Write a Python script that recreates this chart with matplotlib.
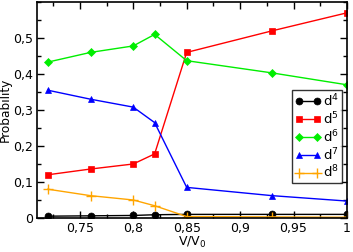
import matplotlib
matplotlib.use("Agg")
import matplotlib.pyplot as plt
from matplotlib.ticker import MultipleLocator, FuncFormatter

plt.rcParams['font.family'] = ['DejaVu Sans']
plt.rcParams['mathtext.default'] = 'regular'

x = [0.72, 0.76, 0.80, 0.82, 0.85, 0.93, 1.0]
d4 = [0.005, 0.006, 0.007, 0.009, 0.010, 0.010, 0.010]
d5 = [0.120, 0.136, 0.150, 0.178, 0.460, 0.520, 0.570]
d6 = [0.433, 0.460, 0.478, 0.510, 0.437, 0.403, 0.370]
d7 = [0.355, 0.330, 0.308, 0.265, 0.085, 0.062, 0.047]
d8 = [0.080, 0.062, 0.050, 0.034, 0.004, 0.003, 0.002]

series = [
    (d4, r'd$^{4}$', 'black', 'o'),
    (d5, r'd$^{5}$', 'red', 's'),
    (d6, r'd$^{6}$', '#00ee00', 'D'),
    (d7, r'd$^{7}$', 'blue', '^'),
    (d8, r'd$^{8}$', 'orange', '+'),
]

fig = plt.figure(figsize=(3.53, 2.52), dpi=100)
ax = fig.add_axes([0.105, 0.135, 0.878, 0.857])

for vals, lab, col, mk in series:
    ms = 5
    if mk == 'D':
        ms = 4
    if mk == '+':
        ms = 7
    ax.plot(x, vals, color=col, marker=mk, ms=ms, lw=1.0, label=lab,
            markeredgewidth=1.0 if mk == '+' else 0.5, markeredgecolor=col)

ax.set_xlim(0.71, 1.0)
ax.set_ylim(0, 0.6)
ax.xaxis.set_major_locator(MultipleLocator(0.05))
ax.xaxis.set_minor_locator(MultipleLocator(0.025))
ax.set_yticks([0, 0.1, 0.2, 0.3, 0.4, 0.5])
ax.yaxis.set_minor_locator(MultipleLocator(0.05))

def fmt(v, pos):
    s = ('%.2f' % v).rstrip('0').rstrip('.')
    if s == '-0':
        s = '0'
    return s.replace('.', ',')

ax.xaxis.set_major_formatter(FuncFormatter(fmt))
ax.yaxis.set_major_formatter(FuncFormatter(fmt))

ax.tick_params(which='both', direction='in', top=True, right=True, labelsize=9, width=1, pad=3)
ax.tick_params(which='major', length=5)
ax.tick_params(which='minor', length=3)
for sp in ax.spines.values():
    sp.set_linewidth(1.2)

ax.set_xlabel(r'V/V$_0$', fontsize=9, labelpad=0)
ax.set_ylabel('Probability', fontsize=8.7, labelpad=1)

leg = ax.legend(loc='lower right', bbox_to_anchor=(0.983, 0.16), fontsize=9.5,
                frameon=True, fancybox=False, edgecolor='black', handlelength=2.0,
                handletextpad=0.15, borderpad=0.2, labelspacing=0.1, borderaxespad=0,
                numpoints=2)
leg.get_frame().set_linewidth(1.0)

fig.savefig('out.png', dpi=100)
